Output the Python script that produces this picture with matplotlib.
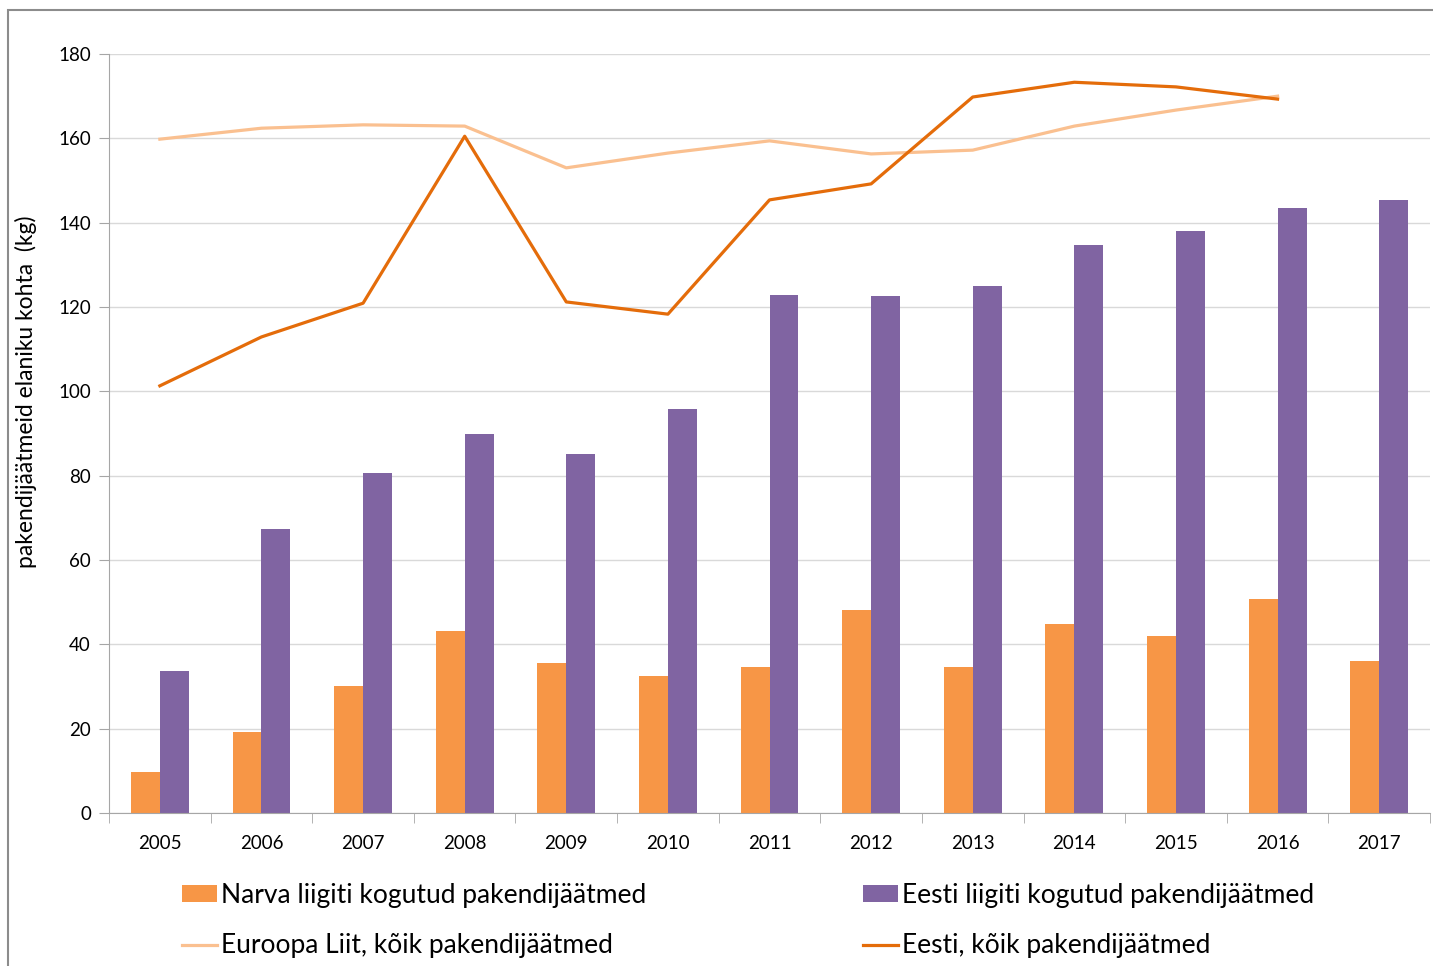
import numpy as np
import matplotlib.pyplot as plt
from matplotlib.patches import Rectangle

plt.rcParams['font.family'] = ['Lato', 'DejaVu Sans']

years = ["2005", "2006", "2007", "2008", "2009", "2010", "2011",
         "2012", "2013", "2014", "2015", "2016", "2017"]

# liigiti kogutud pakendijäätmed, kg elaniku kohta
narva_sorted = [9.7, 19.2, 30.1, 43.2, 35.6, 32.5, 34.6, 48.1, 34.6, 44.8, 42.0, 50.7, 36.0]
eesti_sorted = [33.7, 67.3, 80.6, 89.9, 85.1, 95.8, 122.8, 122.6, 125.0, 134.7, 138.0, 143.5, 145.4]

# kõik pakendijäätmed (2005-2016)
eu_total = [159.8, 162.4, 163.2, 162.9, 153.0, 156.5, 159.4, 156.3, 157.2, 162.9, 166.7, 170.0]
eesti_total = [101.3, 112.9, 120.9, 160.5, 121.2, 118.3, 145.4, 149.2, 169.8, 173.3, 172.2, 169.3]

x = np.arange(len(years))
w = 0.285

fig = plt.figure(figsize=(14.33, 9.66), dpi=100)
ax = fig.add_axes([0.0761, 0.1584, 0.9218, 0.7857])

# outer chart frame
fig.patches.append(Rectangle((8 / 1433, -0.05), 1.1, 1 - 10 / 966 + 0.05,
                             transform=fig.transFigure, fill=False,
                             edgecolor="#8c8c8c", linewidth=1.5))

b1 = ax.bar(x - w / 2, narva_sorted, w, color="#F79646", zorder=2,
            label="Narva liigiti kogutud pakendijäätmed")
b2 = ax.bar(x + w / 2, eesti_sorted, w, color="#8064A2", zorder=2,
            label="Eesti liigiti kogutud pakendijäätmed")
l1, = ax.plot(x[:len(eu_total)], eu_total, color="#FAC090", lw=2.3, zorder=3,
              label="Euroopa Liit, kõik pakendijäätmed")
l2, = ax.plot(x[:len(eesti_total)], eesti_total, color="#E46C0A", lw=2.3, zorder=4,
              label="Eesti, kõik pakendijäätmed")

ax.set_xlim(-0.5, len(years) - 0.5)
ax.set_ylim(0, 180)
ax.set_yticks(np.arange(0, 181, 20))
ax.set_xticks(x)
ax.set_xticklabels(years)
ax.set_xticks(np.arange(-0.5, len(years)), minor=True)
ax.tick_params(axis="x", which="major", length=0, pad=16, labelsize=13.5)
ax.tick_params(axis="x", which="minor", length=7, color="#a6a6a6")
ax.tick_params(axis="y", length=7, color="#a6a6a6", pad=6, labelsize=13.5)
ax.grid(axis="y", color="#d9d9d9", lw=1, zorder=0)
for s in ["top", "right"]:
    ax.spines[s].set_visible(False)
for s in ["left", "bottom"]:
    ax.spines[s].set_color("#a6a6a6")

ax.set_ylabel("pakendijäätmeid elaniku kohta  (kg)", fontsize=16.5)
ax.yaxis.set_label_coords(-0.0545, 0.555)

fig.legend(handles=[b1, l1, b2, l2], ncol=2, loc="upper left",
           bbox_to_anchor=(171 / 1433, 1 - 872 / 966), frameon=False,
           fontsize=19, handlelength=1.35, handleheight=0.6, handletextpad=0.15,
           columnspacing=8.2, labelspacing=0.98, borderaxespad=0)

fig.savefig("out.png", dpi=100)
